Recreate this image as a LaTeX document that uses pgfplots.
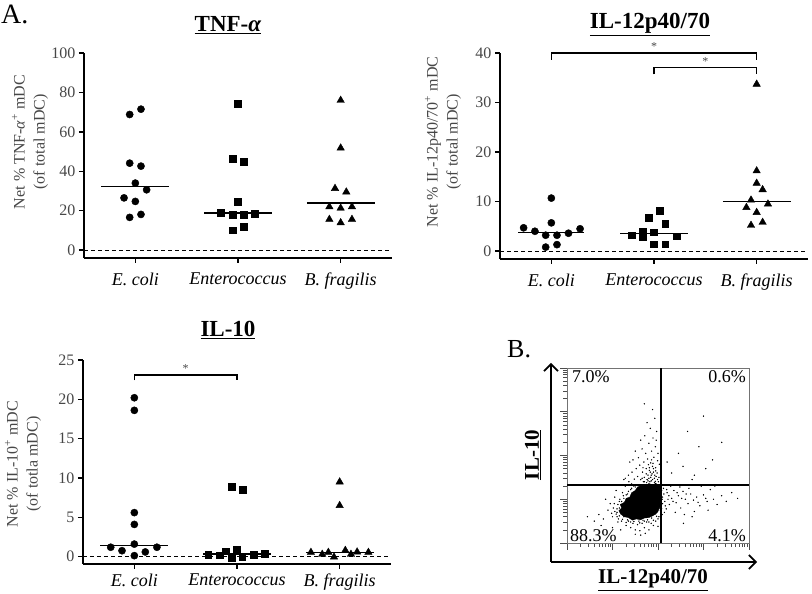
\documentclass[border=0pt]{standalone}
\usepackage{pgfplots}
\pgfplotsset{compat=1.18}
\usepackage{fontspec}
\setmainfont{Liberation Serif}
\usetikzlibrary{arrows.meta}
\newcommand\fs[2]{\fontsize{#1}{#2}\selectfont}
\definecolor{tickgray}{gray}{0.28}

\pgfplotsset{
  dotax/.style={
    scale only axis, width=308pt, height=205pt,
    xmin=-0.5, xmax=2.5,
    axis x line*=bottom, axis y line*=left,
    axis line style={line width=2pt},
    xtick={0,1,2},
    xticklabels={\textit{E. coli},\textit{Enterococcus},\textit{B. fragilis}},
    tick align=outside, major tick length=5pt,
    tick style={black, line width=1.4pt},
    xticklabel style={font=\fs{18}{20}, text=black, yshift=-6pt},
    yticklabel style={font=\fs{16}{18}, text=tickgray},
    ylabel style={font=\fs{16}{20}, text=tickgray, align=center},
    /pgf/number format/assume math mode=true,
    clip=false,
  },
  med/.style={black, line width=1.5pt},
  zero/.style={black, line width=1pt, dash pattern=on 4pt off 3pt},
  br/.style={black, line width=1.2pt},
  circ/.style={only marks, mark=*, mark size=3.6pt, black},
  sq/.style={only marks, mark=square*, mark size=3.4pt, black},
  tri/.style={only marks, mark=triangle*, mark size=4.3pt, black},
}

\begin{document}
\begin{tikzpicture}
\path[use as bounding box] (0pt,0pt) rectangle (812pt,594pt);

% ---------------- TNF-alpha ----------------
\begin{axis}[dotax, at={(84pt,336pt)}, anchor=south west,
  ymin=-4, ymax=100, ytick={0,20,40,60,80,100},
  ylabel={Net \% TNF-\textit{α}\textsuperscript{+} mDC\\(of total mDC)},
  ylabel style={at={(axis description cs:-0.175,0.566)}, anchor=center}]
\addplot[zero] coordinates {(-0.5,0) (2.5,0)};
\addplot[circ] coordinates {(-0.055,68.8) (0.055,71.5) (-0.055,44.1) (0.055,42.6) (0,34) (0.11,30.6) (-0.11,26.5) (0,24.7) (-0.055,16.6) (0.055,18.1)};
\addplot[med] coordinates {(-0.33,32.3) (0.33,32.3)};
\addplot[sq] coordinates {(1,74.2) (0.945,46.5) (1.055,44.9) (1,24.5) (0.835,19.1) (0.945,17.9) (1.055,17.9) (1.165,18.6) (0.945,10.1) (1.055,12.0)};
\addplot[med] coordinates {(0.67,18.9) (1.33,18.9)};
\addplot[tri] coordinates {(2,76) (2,51.8) (1.945,31.3) (2.055,29.5) (1.89,22) (2,21.3) (2.11,22) (1.89,15.6) (2,13.9) (2.11,15.6)};
\addplot[med] coordinates {(1.67,23.8) (2.33,23.8)};
\end{axis}

% ---------------- IL-12p40/70 ----------------
\begin{axis}[dotax, at={(500pt,335pt)}, anchor=south west, height=206pt,
  ymin=-1.6, ymax=40, ytick={0,10,20,30,40},
  ylabel={Net \% IL-12p40/70\textsuperscript{+} mDC\\(of total mDC)},
  ylabel style={at={(axis description cs:-0.185,0.568)}, anchor=center}]
\addplot[zero] coordinates {(-0.5,0) (2.5,0)};
\addplot[circ] coordinates {(0,10.7) (0,5.7) (-0.27,4.7) (-0.16,4.0) (-0.055,3.2) (0.055,3.2) (0.167,3.6) (0.28,4.5) (-0.055,0.8) (0.055,1.3)};
\addplot[med] coordinates {(-0.32,3.8) (0.32,3.8)};
\addplot[sq] coordinates {(1.055,8.1) (0.945,6.7) (1.11,5.45) (0.78,3.2) (0.89,4.0) (0.89,2.8) (1,3.8) (1.22,3.0) (1,1.4) (1.11,1.4)};
\addplot[med] coordinates {(0.67,3.5) (1.33,3.5)};
\addplot[tri] coordinates {(2,33.7) (2,16.2) (2,13.7) (2.058,12.4) (1.945,10.3) (1.9,8.8) (2.11,9.5) (2,7.8) (1.945,5.2) (2.058,5.8)};
\addplot[med] coordinates {(1.67,10.0) (2.33,10.0)};
\addplot[br] coordinates {(0,38.6) (0,40) (2,40) (2,38.6)};
\addplot[br] coordinates {(1,35.7) (1,37.1) (2,37.1) (2,35.7)};
\node[font=\fs{12}{12}, text=tickgray, anchor=south, inner sep=1pt] at (axis cs:1,40.2) {*};
\node[font=\fs{12}{12}, text=tickgray, anchor=south, inner sep=1pt] at (axis cs:1.5,37.3) {*};
\end{axis}

% ---------------- IL-10 ----------------
\begin{axis}[dotax, at={(83pt,30pt)}, anchor=south west, height=204pt,
  ymin=-0.93, ymax=25, ytick={0,5,10,15,20,25},
  xticklabel style={yshift=5pt},
  ylabel={Net \% IL-10\textsuperscript{+} mDC\\(of totla mDC)},
  ylabel style={at={(axis description cs:-0.195,0.49)}, anchor=center}]
\addplot[zero] coordinates {(-0.5,0) (2.5,0)};
\addplot[circ] coordinates {(0,20.2) (0,18.6) (0,5.6) (0,4.1) (-0.23,1.2) (-0.12,0.76) (0,1.6) (0.107,0.6) (0.22,1.2) (0,0.13)};
\addplot[med] coordinates {(-0.33,1.43) (0.33,1.43)};
\addplot[sq] coordinates {(0.945,8.9) (1.055,8.5) (0.72,0.3) (0.83,0.2) (0.89,0.7) (0.945,-0.2) (1,0.9) (1.05,0.04) (1.165,0.3) (1.27,0.4)};
\addplot[med] coordinates {(0.67,0.35) (1.33,0.35)};
\addplot[tri] coordinates {(2,9.5) (2,6.5) (1.72,0.55) (1.83,0.3) (1.89,0.55) (1.945,-0.05) (2.055,0.8) (2.11,0.3) (2.17,0.6) (2.28,0.55)};
\addplot[med] coordinates {(1.67,0.5) (2.33,0.5)};
\addplot[br] coordinates {(0,22.4) (0,23.1) (1,23.1) (1,22.4)};
\node[font=\fs{12}{12}, text=tickgray, anchor=south, inner sep=1pt] at (axis cs:0.5,23.2) {*};
\end{axis}

% ---------------- Flow cytometry panel ----------------
\begin{axis}[scale only axis, width=182pt, height=175pt, at={(567pt,51pt)}, anchor=south west,
  xmin=0, xmax=4, ymin=0, ymax=4,
  axis line style={black!55, line width=0.5pt},
  xtick={0,1,2,3,4}, ytick={0,1,2,3,4},
  minor xtick={0.301,0.477,0.602,0.699,0.778,0.845,0.903,0.954,1.301,1.477,1.602,1.699,1.778,1.845,1.903,1.954,2.301,2.477,2.602,2.699,2.778,2.845,2.903,2.954,3.301,3.477,3.602,3.699,3.778,3.845,3.903,3.954},
  minor ytick={0.301,0.477,0.602,0.699,0.778,0.845,0.903,0.954,1.301,1.477,1.602,1.699,1.778,1.845,1.903,1.954,2.301,2.477,2.602,2.699,2.778,2.845,2.903,2.954,3.301,3.477,3.602,3.699,3.778,3.845,3.903,3.954},
  xticklabels={}, yticklabels={},
  xtick pos=left, ytick pos=left, tick align=outside,
  major tick length=7pt, minor tick length=4pt,
  tick style={black!70, line width=0.6pt},
  clip=false]
% dense core of events
\addplot[fill=black, draw=black, line width=0.3pt] coordinates {(1.60,1.30) (1.66,1.34) (1.72,1.31) (1.80,1.36) (1.88,1.33) (1.95,1.36) (2.04,1.30) (2.06,1.18) (2.05,1.05) (2.07,0.95) (2.04,0.82) (2.00,0.72) (1.95,0.66) (1.88,0.62) (1.80,0.58) (1.70,0.57) (1.62,0.53) (1.52,0.55) (1.44,0.52) (1.35,0.58) (1.26,0.60) (1.18,0.66) (1.14,0.74) (1.20,0.80) (1.17,0.88) (1.26,0.93) (1.30,1.02) (1.38,1.05) (1.42,1.15) (1.50,1.20) (1.55,1.28) (1.60,1.30)};
% individual events
\addplot[only marks, mark=*, mark size=0.45pt, black] coordinates {
(1.62,1.45) (1.70,1.50) (1.78,1.42) (1.85,1.55) (1.92,1.48) (1.98,1.60) (1.55,1.52) (1.48,1.46) (1.66,1.62) (1.74,1.70)
(1.81,1.66) (1.88,1.75) (1.95,1.72) (2.02,1.50) (1.60,1.78) (1.69,1.85) (1.77,1.92) (1.84,1.83) (1.91,1.96) (1.99,1.88)
(1.52,1.70) (1.43,1.62) (1.57,1.95) (1.73,2.05) (1.86,2.10) (1.94,2.20) (2.00,2.05) (1.65,2.15) (1.80,2.28) (1.89,2.40)
(1.71,2.45) (1.97,2.55) (1.83,2.62) (1.62,2.35) (1.50,2.10) (1.38,1.85) (1.93,2.85) (1.76,2.75) (1.88,3.05) (1.70,3.18)
(1.96,2.35) (1.84,1.50) (1.74,1.58) (1.35,1.55) (1.28,1.48) (1.45,1.90) (2.03,1.80) (1.90,1.62) (1.79,1.79) (1.67,1.72)
(1.82,1.40) (1.88,1.45) (1.94,1.41) (1.80,1.48) (1.87,1.58) (1.93,1.55) (1.99,1.45) (1.83,1.62) (1.90,1.70) (1.86,1.90)
(1.92,1.38) (1.76,1.45) (1.70,1.40) (1.96,1.52) (1.89,1.82) (1.81,1.72) (1.95,1.65) (1.78,1.55) (1.65,1.48) (2.01,1.40)
(2.10,1.05) (2.15,0.95) (2.20,1.15) (2.25,0.88) (2.30,1.02) (2.35,1.20) (2.40,0.92) (2.45,1.08) (2.50,0.80) (2.55,1.18)
(2.60,1.00) (2.66,0.90) (2.72,1.12) (2.78,0.98) (2.85,1.05) (2.92,0.85) (3.00,1.10) (3.08,0.95) (3.15,1.22) (3.22,1.00)
(3.30,0.88) (3.40,1.08) (3.50,0.95) (3.62,1.15) (3.75,1.02) (2.12,1.25) (2.18,0.78) (2.28,1.30) (2.38,0.70) (2.48,1.28)
(2.58,0.65) (2.68,1.25) (2.80,0.72) (2.95,1.30) (3.10,0.75) (3.25,1.30) (2.22,1.00) (2.33,0.95) (2.42,1.15) (2.52,1.02)
(2.62,1.12) (2.88,0.93) (3.05,1.02) (2.75,0.60) (2.56,0.45) (2.13,1.12) (2.16,0.85) (2.24,1.08) (2.14,0.70) (2.19,1.22)
(2.30,1.60) (2.55,1.75) (2.80,1.55) (3.05,1.70) (2.45,2.05) (2.90,2.20) (3.20,1.90) (2.65,2.55) (3.40,2.30) (2.20,1.85) (3.00,2.90) (2.75,1.45)
(1.20,0.85) (1.10,0.70) (1.00,0.60) (0.90,0.75) (0.80,0.55) (1.25,0.60) (1.30,0.40) (1.40,0.35) (1.50,0.30) (1.60,0.28)
(1.70,0.35) (1.80,0.30) (1.90,0.40) (2.00,0.38) (1.15,0.95) (1.05,1.05) (1.22,1.15) (1.28,1.30) (1.35,0.50) (1.45,0.45)
(1.55,0.42) (1.65,0.45) (1.75,0.48) (1.85,0.45) (1.95,0.50) (0.95,0.90) (0.70,0.65) (0.60,0.50) (0.75,0.40) (1.00,0.35)
(1.12,0.48) (1.18,0.30) (1.62,0.18) (1.72,0.22) (1.50,0.20) (1.36,1.40) (1.25,1.45) (1.42,1.35) (1.08,1.20) (0.85,1.00)
(2.02,0.60) (2.04,0.80) (2.05,1.20) (1.98,1.30) (0.45,0.60)
(1.10,0.60) (1.15,0.80) (1.20,0.95) (1.30,1.10) (1.42,1.25) (1.55,1.32) (1.75,1.38) (1.95,1.36) (2.08,1.20) (2.10,0.90)
(2.09,0.65) (2.00,0.55) (1.80,0.48) (1.60,0.46) (1.40,0.48) (1.20,0.50) (1.05,0.72) (1.12,0.88) (1.25,1.02) (1.50,1.28)
(1.68,1.40) (1.85,1.42) (2.06,1.10) (2.05,0.75) (1.90,0.52) (1.70,0.50) (1.30,0.47) (1.15,0.62) (1.02,0.80) (1.35,1.18)
(1.08,0.66) (1.13,0.55) (1.22,0.54) (1.33,0.53) (1.47,0.49) (1.58,0.50) (1.67,0.52) (1.77,0.53) (1.86,0.57) (1.97,0.61)
(2.08,0.78) (2.09,1.00) (1.16,1.00) (1.24,1.08) (1.33,1.12) (1.40,1.22) (1.47,1.30) (1.10,0.78) (0.98,0.68) (1.04,0.90)};
% quadrant gates
\addplot[black, line width=1.6pt] coordinates {(2.06,0) (2.06,4)};
\addplot[black, line width=1.6pt] coordinates {(0,1.32) (4,1.32)};
\node[font=\fs{18}{18}, anchor=north west, inner sep=0pt] at (rel axis cs:0.027,0.985) {7.0\%};
\node[font=\fs{18}{18}, anchor=north east, inner sep=0pt] at (rel axis cs:0.984,0.985) {0.6\%};
\node[font=\fs{18}{18}, anchor=south west, inner sep=0pt] at (rel axis cs:0.016,0.005) {88.3\%};
\node[font=\fs{18}{18}, anchor=south east, inner sep=0pt] at (rel axis cs:0.984,0.005) {4.1\%};
\end{axis}

% arrows of panel B
\draw[line width=1.6pt, -{Straight Barb[length=7pt,width=14pt,line width=1.6pt]}] (551pt,32pt) -- (551pt,231pt);
\draw[line width=1.6pt, -{Straight Barb[length=7pt,width=14pt,line width=1.6pt]}] (551pt,32pt) -- (757pt,32pt);

% titles and panel letters
\node[font=\fs{28}{28}, anchor=west, inner sep=0pt] at (1pt,580pt) {A.};
\node[font=\fs{26}{26}, anchor=west, inner sep=0pt] at (507pt,245pt) {B.};
\node[font=\fs{23}{23}\bfseries, anchor=base, inner sep=0pt] at (228pt,562pt) {\underline{TNF-\textit{α}}};
\node[font=\fs{23}{23}\bfseries, anchor=base, inner sep=0pt] at (650pt,565pt) {\underline{IL-12p40/70}};
\node[font=\fs{23}{23}\bfseries, anchor=base, inner sep=0pt] at (228pt,257pt) {\underline{IL-10}};
\node[font=\fs{21}{21}\bfseries, rotate=90, anchor=center, inner sep=0pt] at (533pt,139pt) {\underline{IL-10}};
\node[font=\fs{21}{21}\bfseries, anchor=base, inner sep=0pt] at (653pt,10pt) {\underline{IL-12p40/70}};
\end{tikzpicture}
\end{document}
